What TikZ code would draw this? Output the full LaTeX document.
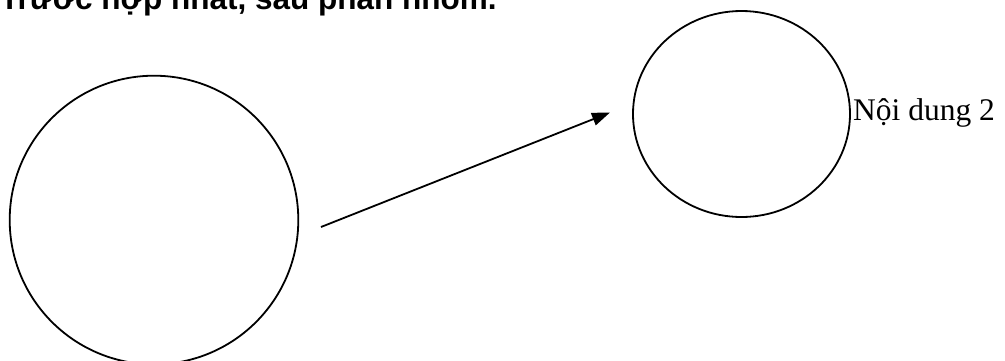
\documentclass[tikz,border=0pt]{standalone}
\usepackage{fontspec}
\setmainfont{Liberation Serif}
\newfontfamily\titlefont{Liberation Sans}
\usetikzlibrary{shapes.geometric,arrows.meta}
\begin{document}
\begin{tikzpicture}[x=1pt,y=-1pt,
  ring/.style={draw=black,line width=1.8pt,inner sep=0pt,outer sep=0pt},
  link/.style={draw=black,line width=1.8pt,-{Triangle[length=18pt,width=13pt]}},
  lbl/.style={inner sep=0pt,anchor=base west,font=\fontsize{31.5}{36}\selectfont},
  ttl/.style={inner sep=0pt,anchor=base west,font=\titlefont\bfseries\fontsize{31.5}{36}\selectfont}]
\useasboundingbox (0,0) rectangle (1005,360);
\node[ttl] (title) at (0,9) {Trước hợp nhất, sau phân nhóm.};
\node[ring,circle,minimum size=288.6pt] (big) at (154,220) {};
\node[ring,ellipse,minimum width=217pt,minimum height=206pt] (small) at (741.5,114) {};
\node[lbl] (label) at (853,120) {Nội dung 2};
\coordinate (from) at (321,227);
\coordinate (to) at (610,112.5);
\draw[link] (from) -- (to);
\end{tikzpicture}
\end{document}
